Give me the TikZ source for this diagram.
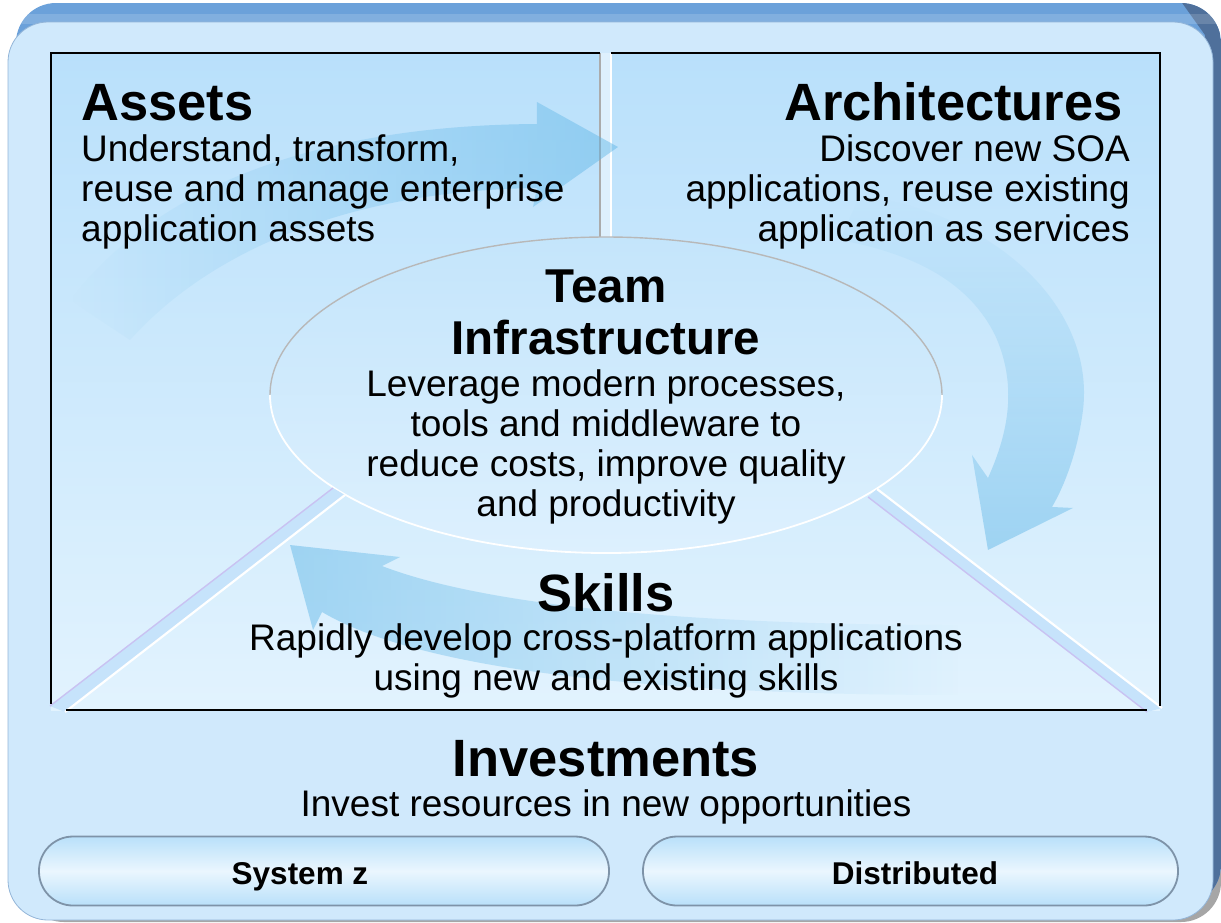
\documentclass[tikz,border=0pt]{standalone}
\usepackage{fontspec}
\setmainfont{Liberation Sans}
\usetikzlibrary{fadings}
\definecolor{face}{HTML}{D0E9FC}
\definecolor{faceedge}{HTML}{93B5D8}
\definecolor{backtop}{HTML}{6BA1DA}
\definecolor{backside}{HTML}{4F709B}
\definecolor{innertop}{HTML}{B9E0FB}
\definecolor{innerbot}{HTML}{E2F3FE}
\definecolor{elltop}{HTML}{C4E5FB}
\definecolor{ellbot}{HTML}{DDF0FE}
\definecolor{bandfill}{HTML}{C6E3FB}
\definecolor{lavender}{HTML}{C9C2F2}
\definecolor{divgray}{HTML}{ABABAB}
\definecolor{arrowblue}{HTML}{5AB4E6}
\definecolor{pilledge}{HTML}{7E93A8}
\definecolor{pillmid}{HTML}{EAF6FE}
\definecolor{pillend}{HTML}{B9E0FA}
\tikzfading[name=fadeleft, left color=transparent!100, middle color=transparent!20, right color=transparent!0]
\tikzfading[name=faderight, left color=transparent!0, middle color=transparent!20, right color=transparent!100]
\tikzfading[name=fadetop, top color=transparent!100, middle color=transparent!20, bottom color=transparent!0]
\tikzset{
  hd/.style={font=\fontsize{52.5}{60}\selectfont\bfseries, inner sep=0pt, anchor=base},
  hdc/.style={font=\fontsize{47.5}{54}\selectfont\bfseries, inner sep=0pt, anchor=base},
  bd/.style={font=\fontsize{37}{40}\selectfont, inner sep=0pt, anchor=base},
  pl/.style={font=\fontsize{31.5}{36}\selectfont\bfseries, inner sep=0pt, anchor=base},
  pill/.style={draw=pilledge, line width=1.8pt, rounded corners=34pt, top color=pillend, bottom color=pillend, middle color=pillmid, minimum height=69pt, inner sep=0pt},
  bigarrow/.style={fill=arrowblue, fill opacity=0.46},
}
\begin{document}
\begin{tikzpicture}[x=1pt,y=-1pt]
\useasboundingbox (0,0) rectangle (1221,922);
% shadow and 3D back
\fill[black!35, rounded corners=40pt] (24,12) rectangle (1221,922);
\fill[backtop, rounded corners=40pt] (16,3) rectangle (1221,905);
\begin{scope}
  \clip[rounded corners=40pt] (16,3) rectangle (1221,905);
  \fill[backside] (1180,0) -- (1230,0) -- (1230,930) -- (1205,930) -- (1205,35) -- cycle;
  \fill[white, opacity=0.15] (0,14) rectangle (1230,24);
\end{scope}
% front face
\fill[face, draw=faceedge, line width=0.8pt, rounded corners=40pt] (8,22) rectangle (1213,920);
% inner frame fill
\shade[top color=innertop, bottom color=innerbot] (51,53) rectangle (1160,710);
% divider
\fill[face!70!white] (600,53) rectangle (611,238);
\draw[divgray, line width=1.6pt] (600,53) -- (600,238);
\draw[white, line width=1.8pt] (611,53) -- (611,238);
% ellipse
\shade[top color=elltop, bottom color=ellbot] (606,395) ellipse [x radius=336, y radius=158];
\draw[divgray!85, line width=1.4pt] (270,395) arc[start angle=180, end angle=360, x radius=336, y radius=158];
\draw[white, line width=1.8pt] (942,395) arc[start angle=0, end angle=180, x radius=336, y radius=158];
% diagonal bands
\fill[bandfill] (333,488) -- (345,495) -- (65,712) -- (50,706) -- cycle;
\draw[lavender, line width=1.4pt] (333,488) -- (50,706);
\draw[white, line width=2.2pt] (345,495) -- (65,712);
\fill[bandfill] (877,489) -- (868,497) -- (1147,712) -- (1162,708) -- cycle;
\draw[white, line width=2.2pt] (877,489) -- (1162,708);
\draw[lavender, line width=1.4pt] (868,497) -- (1147,712);
% big curved arrows
\fill[bigarrow, path fading=fadeleft]
  (70,300) .. controls (170,170) and (350,125) .. (537,124) -- (537,102) -- (618,147) -- (533,207)
  -- (537,188) .. controls (370,190) and (220,240) .. (130,340) -- cycle;
\fill[bigarrow, path fading=fadetop]
  (860,195) .. controls (1000,215) and (1095,310) .. (1083,410) .. controls (1078,450) and (1065,485) .. (1052,507)
  -- (1073,508) -- (988,550) -- (972,455) -- (988,478) .. controls (1005,440) and (1020,390) .. (995,335)
  .. controls (970,285) and (920,255) .. (840,240) -- cycle;
\fill[bigarrow, path fading=faderight]
  (290,545) -- (400,557) -- (382,566) .. controls (470,600) and (650,625) .. (960,625)
  -- (960,695) .. controls (650,695) and (420,670) .. (322,612) -- (313,630) -- cycle;
% black frame
\draw[black, line width=2.4pt] (600,53) -- (51,53) -- (51,704);
\draw[black, line width=2.4pt] (611,53) -- (1160,53) -- (1160,706);
\draw[black, line width=2.4pt] (66,710) -- (1147,710);
% texts
\node[hd, anchor=base west] (assetsH) at (81,120) {Assets};
\node[bd, anchor=base west] (assets1) at (81,161) {Understand, transform,};
\node[bd, anchor=base west] (assets2) at (81,201) {reuse and manage enterprise};
\node[bd, anchor=base west] (assets3) at (81,241) {application assets};
\node[hd, anchor=base east] (archH) at (1123,120) {Architectures};
\node[bd, anchor=base east] (arch1) at (1130,161) {Discover new SOA};
\node[bd, anchor=base east] (arch2) at (1130,201) {applications, reuse existing};
\node[bd, anchor=base east] (arch3) at (1130,241) {application as services};
\node[hdc] (teamH1) at (606,302) {Team};
\node[hdc] (teamH2) at (606,354) {Infrastructure};
\node[bd] (team1) at (606,396) {Leverage modern processes,};
\node[bd] (team2) at (606,436) {tools and middleware to};
\node[bd] (team3) at (606,476) {reduce costs, improve quality};
\node[bd] (team4) at (606,516) {and productivity};
\node[hd] (skillsH) at (606,611) {Skills};
\node[bd] (skills1) at (606,650) {Rapidly develop cross-platform applications};
\node[bd] (skills2) at (606,690) {using new and existing skills};
\node[hd] (invH) at (606,776) {Investments};
\node[bd] (inv1) at (606,816) {Invest resources in new opportunities};
% pills
\node[pill, minimum width=570pt] (syszbox) at (324,871) {};
\node[pill, minimum width=535pt] (distbox) at (910.5,871) {};
\node[pl] (sysz) at (300,884) {System z};
\node[pl] (dist) at (915,884) {Distributed};
\end{tikzpicture}
\end{document}
